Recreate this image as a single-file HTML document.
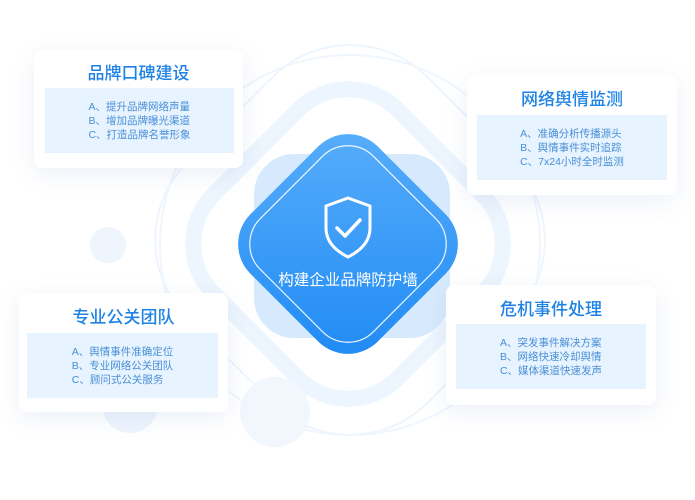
<!DOCTYPE html>
<html><head><meta charset="utf-8"><style>
body{margin:0;width:695px;height:500px;background:#fff;position:relative;overflow:hidden;font-family:"Liberation Sans","Noto Sans CJK SC",sans-serif}
.card{position:absolute;background:#fff;border-radius:8px;box-shadow:0 6px 24px rgba(60,110,180,0.10)}
.card h3{margin:0;position:absolute;left:0;right:0;text-align:center;font-size:17px;font-weight:500;color:#1e83e6}
.inner{position:absolute;background:#e7f3fe;color:#4a8fd8;font-size:10.5px;line-height:14px;display:flex;align-items:center;justify-content:center}
.inner div{text-align:left}
</style></head><body>
<svg width="695" height="500" style="position:absolute;left:0;top:0">
<g fill="none" stroke="#edf5fe">
<rect x="218" y="114" width="260" height="260" rx="70" transform="rotate(45 348 244)" stroke-width="16"/>
<rect x="180" y="70" width="340" height="340" rx="110" transform="rotate(45 350 240)" stroke-width="2"/>
<circle cx="350" cy="245" r="190" stroke-width="2" stroke="#f0f6fd"/>
</g>
<circle cx="108" cy="245" r="18" fill="#eef5fd"/>
<circle cx="275" cy="412" r="35" fill="#f2f7fe"/>
<circle cx="130" cy="405" r="28" fill="#eef5fd"/>
<rect x="254" y="154" width="196" height="184" rx="40" fill="#cde5fd" opacity="0.8"/>
<defs><linearGradient id="g" x1="0" y1="0" x2="1" y2="1"><stop offset="0" stop-color="#5aaffb"/><stop offset="1" stop-color="#1d89f4"/></linearGradient></defs>
<g transform="rotate(45 348 244)">
<rect x="258" y="154" width="180" height="180" rx="42" fill="url(#g)"/>
<rect x="268" y="164" width="160" height="160" rx="36" fill="none" stroke="#fff" stroke-width="1.2" opacity="0.9"/>
</g>
<path d="M348 198 L370 206 V228 C370 242 360 251 348 257 C336 251 326 242 326 228 V206 Z" fill="none" stroke="#fff" stroke-width="3" stroke-linejoin="round"/>
<path d="M337 228 L345 236 L360 220" fill="none" stroke="#fff" stroke-width="3.5" stroke-linecap="round" stroke-linejoin="round"/>
<text x="348" y="285" text-anchor="middle" fill="#fff" font-size="15.5" font-family="Liberation Sans,Noto Sans CJK SC,sans-serif">构建企业品牌防护墙</text>
</svg>
<div class="card" style="left:34px;top:50px;width:209px;height:118px"><h3 style="top:9px">品牌口碑建设</h3><div class="inner" style="left:11px;top:38px;width:189px;height:65px"><div>A、提升品牌网络声量<br>B、增加品牌曝光渠道<br>C、打造品牌名誉形象</div></div></div>
<div class="card" style="left:467px;top:75px;width:210px;height:120px"><h3 style="top:10px">网络舆情监测</h3><div class="inner" style="left:10px;top:40px;width:190px;height:65px"><div>A、准确分析传播源头<br>B、舆情事件实时追踪<br>C、7x24小时全时监测</div></div></div>
<div class="card" style="left:19px;top:293px;width:209px;height:119px"><h3 style="top:10px">专业公关团队</h3><div class="inner" style="left:8px;top:40px;width:191px;height:65px"><div>A、舆情事件准确定位<br>B、专业网络公关团队<br>C、顾问式公关服务</div></div></div>
<div class="card" style="left:446px;top:285px;width:210px;height:120px"><h3 style="top:10px">危机事件处理</h3><div class="inner" style="left:10px;top:39px;width:190px;height:65px"><div>A、突发事件解决方案<br>B、网络快速冷却舆情<br>C、媒体渠道快速发声</div></div></div>
</body></html>
